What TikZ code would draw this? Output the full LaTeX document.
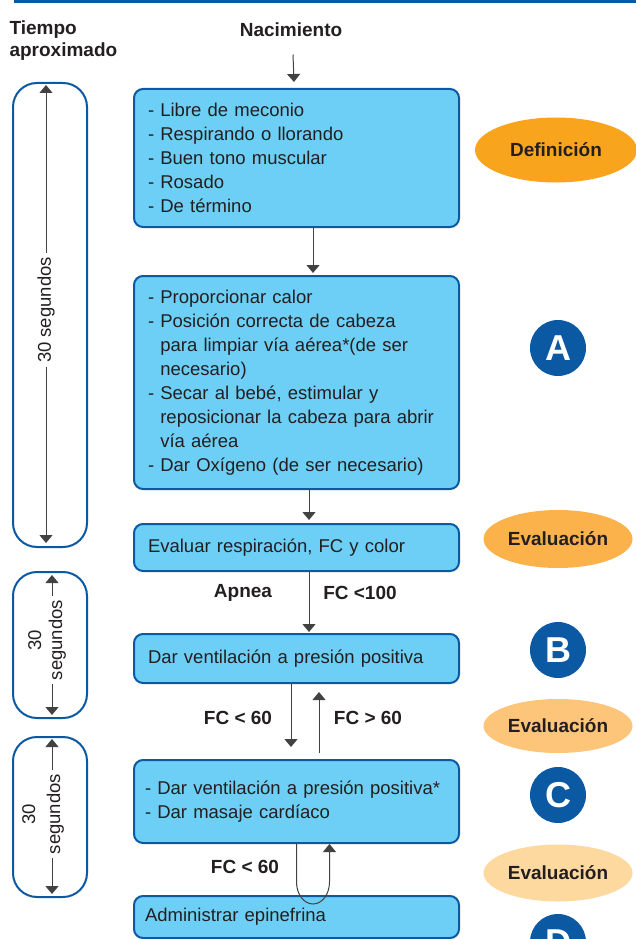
\documentclass[tikz,border=0pt]{standalone}
\usepackage{fontspec}
\setmainfont{Liberation Sans}
\usepackage{tikz}
\usetikzlibrary{positioning}
\usetikzlibrary{arrows.meta}
\usetikzlibrary{shapes.geometric}
\definecolor{azul}{HTML}{0B58A3}
\definecolor{celeste}{HTML}{6DCFF6}
\definecolor{tinta}{HTML}{231F20}
\definecolor{naranja}{HTML}{F8A51D}
\definecolor{evalA}{HTML}{FBB24A}
\definecolor{evalB}{HTML}{FDC57A}
\definecolor{evalC}{HTML}{FDD9A0}
\tikzset{
  caja/.style={draw=azul, fill=celeste, line width=2pt, rounded corners=9pt, anchor=north west,
    text width=297pt, inner xsep=14pt, align=left, text=tinta, font=\fontsize{18.5}{24}\selectfont},
  flecha/.style={-{Triangle[width=13pt,length=8pt]}, line width=1pt, draw=tinta!85},
  rotulo/.style={text=tinta, font=\bfseries\fontsize{19}{22}\selectfont},
  elipse/.style={ellipse, inner sep=0pt, text=tinta, font=\bfseries\fontsize{19}{22}\selectfont},
  letra/.style={circle, fill=azul, minimum size=56pt, inner sep=0pt, text=white, font=\bfseries\fontsize{36}{36}\selectfont},
  tiempo/.style={draw=azul, line width=2pt, rounded corners=24pt},
  seg/.style={rotate=90, text=tinta, align=center, inner sep=4pt, font=\fontsize{18.5}{21}\selectfont}
}
\newcommand{\sangria}{\phantom{- }}

\begin{document}
\begin{tikzpicture}[x=1pt,y=-1pt]
\useasboundingbox (0,0) rectangle (636,939);
\clip (0,0) rectangle (636,939);
\fill[azul] (14,0) rectangle (636,3);
\node[rotulo, anchor=west, align=left] (tiempo) at (6,41) {Tiempo\\aproximado};
\node[rotulo] (nac) at (291,30) {Nacimiento};
% pasos
\node[caja, minimum height=138pt] (b1) at (133,88) {- Libre de meconio\\- Respirando o llorando\\- Buen tono muscular\\- Rosado\\- De término};
\node[caja, minimum height=213pt] (b2) at (133,275) {- Proporcionar calor\\- Posición correcta de cabeza\\\sangria para limpiar vía aérea*(de ser\\\sangria necesario)\\- Secar al bebé, estimular y\\\sangria reposicionar la cabeza para abrir\\\sangria vía aérea\\- Dar Oxígeno (de ser necesario)};
\node[caja, minimum height=47pt] (b3) at (133,523) {Evaluar respiración, FC y color};
\node[caja, minimum height=49pt] (b4) at (133,633) {Dar ventilación a presión positiva};
\node[caja, minimum height=83pt, inner xsep=11pt, text width=303pt] (b5) at (133,759) {- Dar ventilación a presión positiva*\\- Dar masaje cardíaco};
\node[caja, minimum height=42pt, inner xsep=11pt, text width=303pt] (b6) at (133,895) {Administrar epinefrina};
% flechas
\draw[flecha] ([xshift=2pt,yshift=-14pt]nac.south) -- ([xshift=-2.5pt,yshift=6pt]b1.north);
\draw[flecha] ([xshift=16.5pt]b1.south) -- ([xshift=16.5pt,yshift=2pt]b2.north);
\draw[flecha] ([xshift=12.5pt]b2.south) -- ([xshift=12.5pt,yshift=3pt]b3.north);
\draw[flecha] ([xshift=12.5pt]b3.south) -- ([xshift=12.5pt,yshift=1pt]b4.north);
\draw[flecha] ([xshift=-5.5pt]b4.south) -- ([xshift=-5.5pt,yshift=12pt]b5.north);
\draw[flecha] ([xshift=22.5pt,yshift=6pt]b5.north) -- ([xshift=22.5pt,yshift=-8pt]b4.south);
\draw[flecha] (b5.south) -- ++(0,38) arc[start angle=180, end angle=0, x radius=16.5, y radius=22] -- ([xshift=33pt]b5.south);
\node[rotulo] (apnea) at (243,593) {Apnea};
\node[rotulo] (fc100) at (360,593) {FC <100};
\node[rotulo] (fc60a) at (238,718) {FC < 60};
\node[rotulo] (fc60b) at (368,718) {FC > 60};
\node[rotulo] (fc60c) at (245,867) {FC < 60};
% columna derecha
\node[elipse, fill=naranja, minimum width=162pt, minimum height=65pt] (defi) at (556,150) {Definición};
\node[letra] (A) at (558,348) {A};
\node[elipse, fill=evalA, minimum width=149pt, minimum height=58pt] (ev1) at (558,539) {Evaluación};
\node[letra] (B) at (558,650) {B};
\node[elipse, fill=evalB, minimum width=149pt, minimum height=54pt] (ev2) at (558,726) {Evaluación};
\node[letra] (C) at (558,795) {C};
\node[elipse, fill=evalC, minimum width=149pt, minimum height=57pt] (ev3) at (558,873) {Evaluación};
\node[letra] (D) at (558,942) {D};
% tiempos
\draw[tiempo] (13,83) rectangle (87,547);
\node[seg] (s1) at (46,310) {30 segundos};
\coordinate (s1a) at (46,85);
\coordinate (s1b) at (46,543);
\draw[flecha] (s1.east) -- (s1a);
\draw[flecha] (s1.west) -- (s1b);
\draw[tiempo] (13,572) rectangle (87,718);
\node[seg] (s2) at (47,640) {30\\segundos};
\coordinate (s2a) at (52,575);
\coordinate (s2b) at (52,715);
\draw[flecha] ([xshift=5pt]s2.east) -- (s2a);
\draw[flecha] ([xshift=5pt]s2.west) -- (s2b);
\draw[tiempo] (13,737) rectangle (87,897);
\node[seg, font=\fontsize{18.5}{25}\selectfont] (s3) at (43,814) {30\\segundos};
\coordinate (s3a) at (52,739);
\coordinate (s3b) at (52,894);
\draw[flecha] ([xshift=9pt]s3.east) -- (s3a);
\draw[flecha] ([xshift=9pt]s3.west) -- (s3b);
\end{tikzpicture}
\end{document}
